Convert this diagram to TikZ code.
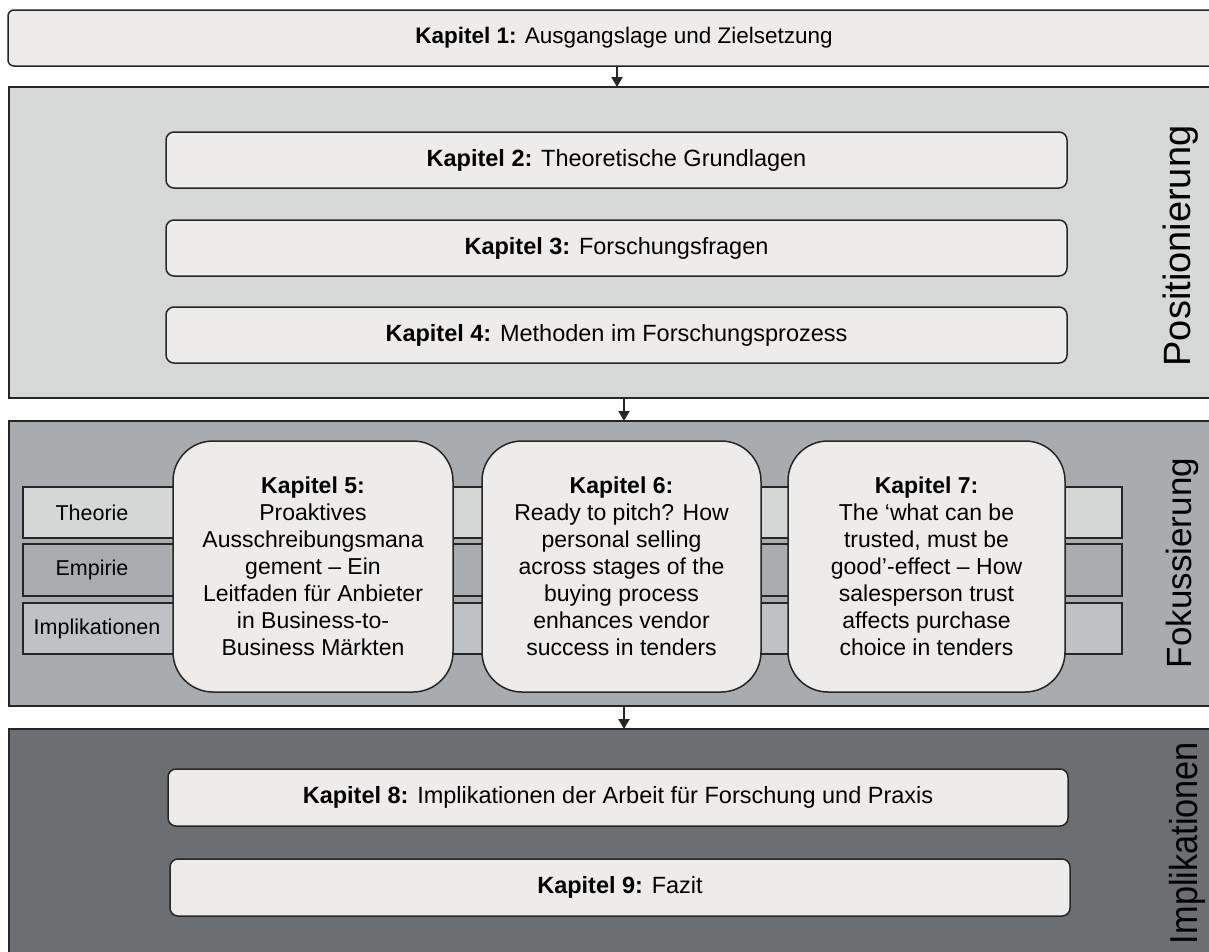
\documentclass[tikz,border=0pt]{standalone}
\usepackage{fontspec}
\setmainfont{Liberation Sans}
\usetikzlibrary{arrows.meta}
\definecolor{bandA}{HTML}{D6D8D8}
\definecolor{bandB}{HTML}{A8ACAE}
\definecolor{bandC}{HTML}{6B6F72}
\definecolor{boxfill}{HTML}{EDECEA}
\definecolor{stripA}{HTML}{D5D7D7}
\definecolor{stripB}{HTML}{A9ADAF}
\definecolor{stripC}{HTML}{BFC2C4}
\definecolor{edge}{HTML}{262626}
\begin{document}
\begin{tikzpicture}[x=1pt,y=-1pt,
 band/.style={draw=edge, line width=2pt, rectangle, anchor=north west, inner sep=0pt, outer sep=0pt},
 chap/.style={draw=edge, line width=1.5pt, fill=boxfill, rounded corners=8pt, anchor=north west, inner sep=0pt, outer sep=0pt, font=\fontsize{23.5}{27}\selectfont},
 big/.style={draw=edge, line width=1.5pt, fill=boxfill, rounded corners=40pt, anchor=north west, inner sep=0pt, outer sep=0pt, align=center, font=\fontsize{23}{27}\selectfont, minimum height=251pt},
 strip/.style={draw=edge, line width=1.5pt, anchor=north west, inner sep=0pt, outer sep=0pt, minimum width=1099pt},
 striplabel/.style={font=\fontsize{21.5}{26}\selectfont},
 side/.style={rotate=90, font=\fontsize{35}{40}\selectfont, inner sep=0pt},
 arr/.style={draw=edge, line width=2pt, -{Triangle[length=10pt,width=11pt]}}
]
\useasboundingbox (0,0) rectangle (1209,951);
\clip (0,0) rectangle (1209,951);

% bands
\node[band, fill=bandA, minimum width=1231pt, minimum height=311pt] (pos) at (9,87) {};
\node[band, fill=bandB, minimum width=1231pt, minimum height=285pt] (fok) at (9,421) {};
\node[band, fill=bandC, minimum width=1231pt, minimum height=260pt] (imp) at (9,729) {};

% chapter 1
\node[chap, font=\fontsize{22.5}{27}\selectfont, rounded corners=6pt, minimum width=1232pt, minimum height=56pt] (k1) at (8,10) {\textbf{Kapitel 1:} Ausgangslage und Zielsetzung};

% chapters 2-4
\node[chap, minimum width=901pt, minimum height=56pt] (k2) at (166,132) {\textbf{Kapitel 2:} Theoretische Grundlagen};
\node[chap, minimum width=901pt, minimum height=56pt] (k3) at (166,220) {\textbf{Kapitel 3:} Forschungsfragen};
\node[chap, minimum width=901pt, minimum height=56pt] (k4) at (166,307) {\textbf{Kapitel 4:} Methoden im Forschungsprozess};

% strips
\node[strip, fill=stripA, minimum height=51pt] (s1) at (23,487) {};
\node[strip, fill=stripB, minimum height=52pt] (s2) at (23,544) {};
\node[strip, fill=stripC, minimum height=51pt] (s3) at (23,603) {};
\node[striplabel] (t1) at (92,512.5) {Theorie};
\node[striplabel] (t2) at (92,570) {Empirie};
\node[striplabel] (t3) at (97,628.5) {Implikationen};

% chapters 5-7
\node[big, minimum width=280pt] (k5) at (173,441) {\textbf{Kapitel 5:}\\Proaktives\\Ausschreibungsmana\\gement -- Ein\\Leitfaden für Anbieter\\in Business-to-\\Business Märkten};
\node[big, minimum width=279pt] (k6) at (482,441) {\textbf{Kapitel 6:}\\Ready to pitch? How\\personal selling\\across stages of the\\buying process\\enhances vendor\\success in tenders};
\node[big, minimum width=277pt] (k7) at (788,441) {\textbf{Kapitel 7:}\\The ‘what can be\\trusted, must be\\good’-effect -- How\\salesperson trust\\affects purchase\\choice in tenders};

% chapters 8-9
\node[chap, minimum width=900pt, minimum height=57pt] (k8) at (168,769) {\textbf{Kapitel 8:} Implikationen der Arbeit für Forschung und Praxis};
\node[chap, minimum width=900pt, minimum height=57pt] (k9) at (170,859) {\textbf{Kapitel 9:} Fazit};

% side labels
\node[side, font=\fontsize{38}{42}\selectfont] (lp) at (1181,246) {Positionierung};
\node[side] (lf) at (1182,563) {Fokussierung};
\node[side, font=\fontsize{39}{44}\selectfont] (li) at (1187,843) {\scalebox{0.88}[1]{Implikationen}};

% arrows
\coordinate (a1) at (617,0);
\coordinate (a2) at (624,0);
\draw[arr] (a1 |- k1.south) -- (a1 |- pos.north);
\draw[arr] (a2 |- pos.south) -- (a2 |- fok.north);
\draw[arr] (a2 |- fok.south) -- (a2 |- imp.north);
\end{tikzpicture}
\end{document}
